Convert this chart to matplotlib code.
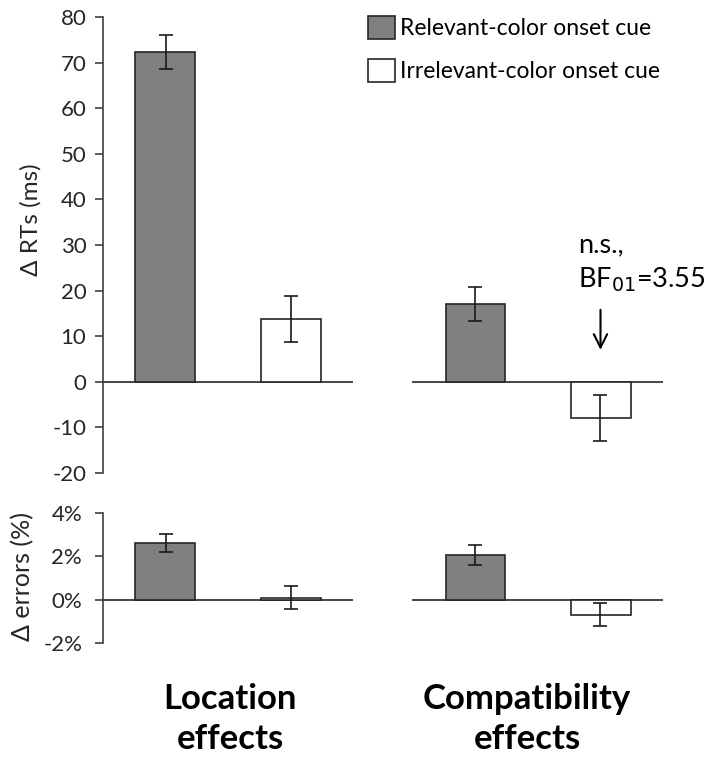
import numpy as np
import matplotlib
matplotlib.use("Agg")
from matplotlib import pyplot as plt

plt.rcParams['font.family'] = ['Lato', 'DejaVu Sans']
plt.rcParams['axes.unicode_minus'] = False

groups = ["Location\neffects", "Compatibility\neffects"]
cues = ["Relevant-color onset cue", "Irrelevant-color onset cue"]

# delta RTs (ms): [relevant, irrelevant] per group
rt_means = [[72.3, 13.8], [17.1, -7.9]]
rt_errs = [[3.7, 5.0], [3.7, 5.0]]

# delta errors (%)
err_means = [[2.6, 0.1], [2.05, -0.7]]
err_errs = [[0.42, 0.52], [0.46, 0.53]]

rt_ticks = [-20, -10, 0, 10, 20, 30, 40, 50, 60, 70, 80]
err_ticks = [-2, 0, 2, 4]

group_x = [1.25, 4.35]
offset = 0.625
width = 0.6
colors = ["#808080", "white"]
edge = "#262626"

fig = plt.figure(figsize=(7.05, 7.59), dpi=100)
ax1 = fig.add_axes([103/705, 1-473/759, 560/705, 456/759])
ax2 = fig.add_axes([103/705, 1-643/759, 560/705, 130/759])


def draw(ax, means, errs, pad):
    bars = []
    for i, gx in enumerate(group_x):
        for j in range(2):
            b = ax.bar(gx + (j*2-1)*offset, means[i][j], width, color=colors[j],
                       edgecolor=edge, linewidth=1.2, zorder=3)
            ax.errorbar(gx + (j*2-1)*offset, means[i][j], yerr=errs[i][j], fmt='none',
                        ecolor="#1a1a1a", elinewidth=1.2, capsize=5, capthick=1.2, zorder=4)
            if i == 0:
                bars.append(b)
    # zero lines, one per group
    ax.hlines(0, 0, 2.5, color="#262626", lw=1.2, zorder=2)
    ax.hlines(0, group_x[1] - 1.26, group_x[1] + 1.26, color="#262626", lw=1.2, zorder=2)
    ax.set_xlim(0, 5.6)
    ax.set_xticks([])
    for s in ["top", "right", "bottom"]:
        ax.spines[s].set_visible(False)
    ax.spines["left"].set_color("#404040")
    ax.spines["left"].set_linewidth(1.2)
    ax.tick_params(axis='y', direction='out', length=6, width=1.2, color="#404040",
                   labelsize=16, labelcolor="#262626", pad=pad)
    return bars


bars = draw(ax1, rt_means, rt_errs, 6)
ax1.set_ylim(-20, 80)
ax1.set_yticks(rt_ticks)
ax1.set_ylabel("Δ RTs (ms)", fontsize=17.5, color="#262626")
ax1.yaxis.set_label_coords(-0.109, 0.556)

draw(ax2, err_means, err_errs, 9)
ax2.set_ylim(-2, 4)
ax2.set_yticks(err_ticks)
ax2.set_yticklabels(["%d%%" % t for t in err_ticks])
ax2.set_ylabel("Δ errors (%)", fontsize=18, color="#262626")
ax2.yaxis.set_label_coords(-0.123, 0.508)

ax1.annotate("", xy=(group_x[1] + offset, 6.4), xytext=(group_x[1] + offset, 16.4),
             arrowprops=dict(arrowstyle="->", color="black", lw=1.5,
                             mutation_scale=24))
ax1.text(4.75, 30.0, "n.s.,", fontsize=19.5, va="center", ha="left")
ax1.text(4.75, 22.4, "BF$_{01}$=3.55", fontsize=19.5, va="center", ha="left",
         clip_on=False)

fig.legend(bars, cues, loc="upper left", bbox_to_anchor=(359/705, 1-7/759),
           frameon=False, fontsize=16.5, handlelength=1.15, handleheight=1.15,
           handletextpad=0.22, labelspacing=0.85, borderaxespad=0)

for cx, name in zip([230, 527], groups):
    fig.text(cx / 705, 1 - 719/759, name, ha="center", va="center",
             fontsize=25, fontweight="bold", linespacing=1.3)

fig.savefig("out.png", dpi=100)
